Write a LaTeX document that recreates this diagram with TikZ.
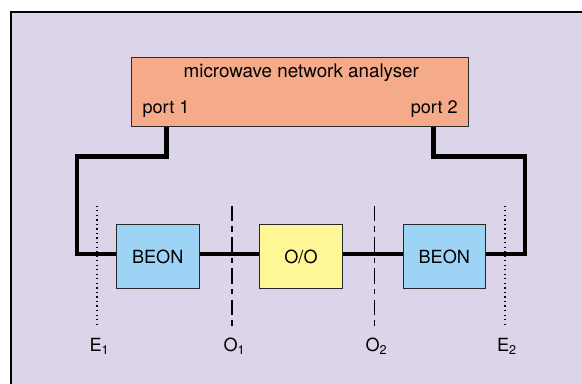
\documentclass[tikz,border=0pt]{standalone}
\usepackage{fontspec}
\setmainfont{TeX Gyre Heros}
\definecolor{lavender}{RGB}{220,213,233}
\definecolor{salmon}{RGB}{245,171,137}
\definecolor{beonblue}{RGB}{157,211,245}
\definecolor{ooyellow}{RGB}{255,247,150}
\tikzset{
  box/.style={draw={rgb,255:red,40;green,40;blue,40}, line width=0.8pt, inner sep=0pt},
  wire/.style={line width=3.6pt, line join=miter},
  eplane/.style={line width=0.9pt, dash pattern=on 0.9pt off 2.5pt},
  oplane/.style={line width=0.8pt, dash pattern=on 11.5pt off 4pt on 4pt off 4pt},
  lbl/.style={font=\fontsize{13.6}{16}\selectfont}
}
\begin{document}
\begin{tikzpicture}[x=0.75pt,y=0.75pt,yscale=-1,xscale=1]
\useasboundingbox (0,0) rectangle (582,383);

%Frame
\draw [fill=lavender, line width=1pt] (11,12) rectangle (600,400);

%Analyser
\node [box, fill=salmon, minimum width=337.3*0.75pt, minimum height=69.4*0.75pt] (ana) at (300.3,92) {};
\node [font=\fontsize{14.1}{16}\selectfont, anchor=center] (anatext) at (301.3,72.5) {microwave network analyser};
\node [lbl, anchor=west, inner sep=0pt] (portA) at (142.3,109.5) {port 1};
\node [lbl, anchor=east, inner sep=0pt] (portB) at (458,109.5) {port 2};

%Blocks
\node [box, fill=beonblue, lbl, minimum width=82.7*0.75pt, minimum height=64*0.75pt] (beonA) at (157.7,256.7) {BEON};
\node [box, fill=ooyellow, lbl, minimum width=82.7*0.75pt, minimum height=64*0.75pt] (oo) at (301,256.7) {O/O};
\node [box, fill=beonblue, lbl, minimum width=82*0.75pt, minimum height=64*0.75pt] (beonB) at (444.3,256.7) {BEON};

%Wires
\coordinate (pA) at (166.3,126.7);
\coordinate (pB) at (433.7,126.7);
\coordinate (bendA) at (77,156.7);
\coordinate (bendB) at (525,156.7);
\coordinate (wy) at (0,254);
\draw [wire] (pA) |- (bendA) |- (beonA.west |- wy);
\draw [wire] (pB) |- (bendB) |- (beonB.east |- wy);
\draw [wire] (beonA.east |- wy) -- (oo.west |- wy);
\draw [wire] (oo.east |- wy) -- (beonB.west |- wy);

%Reference planes
\foreach \name/\px/\sty in {eA/97/eplane, oA/232/oplane, oB/374.3/oplane, eB/505/eplane}{
  \coordinate (\name top) at (\px,205.7);
  \coordinate (\name bot) at (\px,325.7);
  \draw [\sty] (\name top) -- (\name bot);
}
\node [lbl, inner sep=0pt] (eAl) at (99.5,346) {E\textsubscript{1}};
\node [lbl, inner sep=0pt] (oAl) at (234.5,346) {O\textsubscript{1}};
\node [lbl, inner sep=0pt] (oBl) at (376.5,346) {O\textsubscript{2}};
\node [lbl, inner sep=0pt] (eBl) at (507,346) {E\textsubscript{2}};

\end{tikzpicture}
\end{document}
